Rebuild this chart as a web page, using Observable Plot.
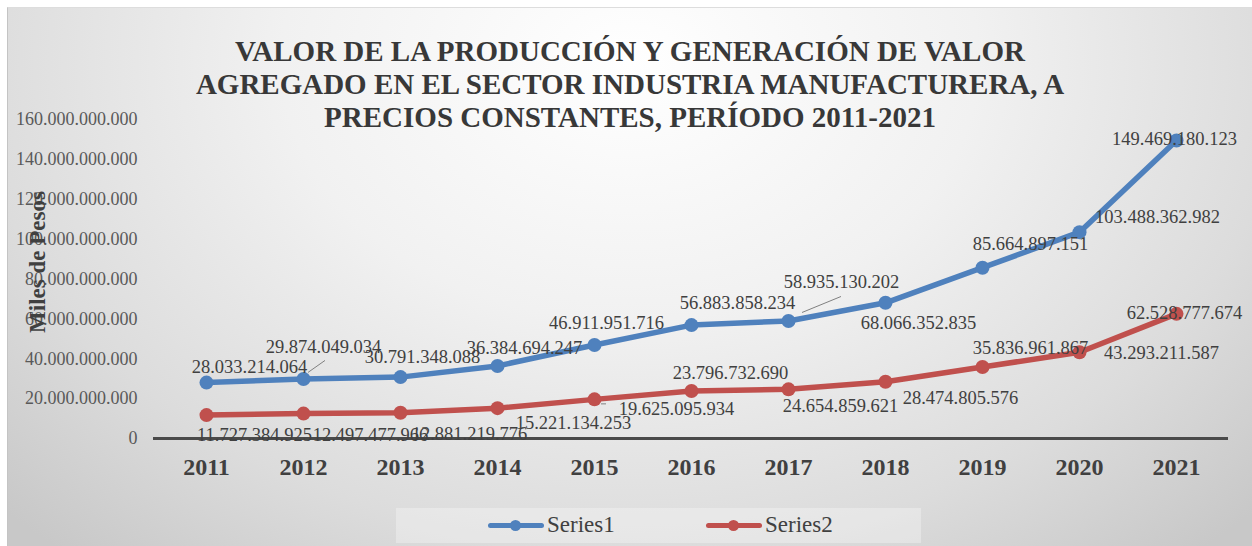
<!DOCTYPE html>
<html>
<head>
<meta charset="utf-8">
<script src="https://cdn.jsdelivr.net/npm/d3@7"></script>
<script src="https://cdn.jsdelivr.net/npm/@observablehq/plot@0.6"></script>
<style>
  body { margin: 0; background: #ffffff; }
  #wrap { position: relative; width: 1252px; height: 546px; overflow: hidden; }
  .serif { font-family: 'Liberation Serif', 'DejaVu Serif', serif; }
  #bg { position: absolute; left: 7px; top: 7px; right: 0; bottom: 0;
    background: radial-gradient(ellipse 70% 120% at 50% 10%, #ffffff 0%, #f1f1f1 40%, #dcdcdc 75%, #c8c8c8 100%);
    border-left: 1px solid #c4c4c4; border-top: 1px solid #dddddd; }
  #title { position: absolute; left: 0; width: 1260px; top: 35px; text-align: center;
    font-weight: bold; font-size: 29px; line-height: 33px; color: #383838; }
  #ytitle { position: absolute; left: 38px; top: 262px; transform: translate(-50%, -50%) rotate(-90deg);
    font-weight: bold; font-size: 23px; color: #404040; white-space: nowrap; }
  #chart { position: absolute; left: 0; top: 0; }
  #legend { position: absolute; left: 396px; top: 508px; width: 525px; height: 35px;
    background: rgba(255,255,255,0.3); }
  .item { position: absolute; top: 0; height: 35px; }
  .ln { position: absolute; top: 15px; width: 56px; height: 5px; border-radius: 3px; }
  .dt { position: absolute; top: 12px; width: 11px; height: 11px; border-radius: 50%; }
  .lt { position: absolute; top: 3px; font-size: 23px; line-height: 28px; color: #404040; white-space: nowrap; }
</style>
</head>
<body>
<div id="wrap">
  <div id="bg"></div>
  <div id="chart"></div>
  <div id="title" class="serif"></div>
  <div id="ytitle" class="serif"></div>
  <div id="legend" class="serif"></div>
</div>
<script>
const titleLines = [
  "VALOR DE LA PRODUCCIÓN Y GENERACIÓN DE VALOR",
  "AGREGADO EN EL SECTOR INDUSTRIA MANUFACTURERA, A",
  "PRECIOS CONSTANTES, PERÍODO 2011-2021"
];
const yTitle = "Miles de Pesos";
const years = ["2011","2012","2013","2014","2015","2016","2017","2018","2019","2020","2021"];
const seriesNames = ["Series1", "Series2"];
const series1 = [28033214064, 29874049034, 30791348088, 36384694247, 46911951716, 56883858234, 58935130202, 68066352835, 85664897151, 103488362982, 149469180123];
const series2 = [11727384925, 12497477966, 12881219776, 15221134253, 19625095934, 23796732690, 24654859621, 28474805576, 35836961867, 43293211587, 62528777674];
const yTicks = [0, 20e9, 40e9, 60e9, 80e9, 100e9, 120e9, 140e9, 160e9];
const colors = ["#4F81BD", "#C0504D"];

// data-label offsets (pixels) as placed in the original
const labelDx1 = [43, 20, 22, 27, 12, 46, 53, 33, 48, 78, -2];
const labelDy1 = [-16, -32, -20, -18, -22, -22, -39, 20, -24, -15, -1];
const labelDx2 = [48, 67, 69, 76, 82, 39, 52, 75, 48, 82, 8];
const labelDy2 = [20, 21, 21, 15, 10, -18, 17, 16, -19, 1, -1];
// leader lines: [series index, point index, from dx, from dy, to dx, to dy]
const leaderSpecs = [
  [0, 1, 5, -6, 22, -18],
  [0, 6, 14, -8, 53, -24],
  [1, 4, 7, 5, 12, 5]
];

const fmt = v => String(Math.round(v)).replace(/\B(?=(\d{3})+(?!\d))/g, ".");

const rows = [];
years.forEach((yr, i) => {
  rows.push({year: yr, value: series1[i], series: seriesNames[0], dx: labelDx1[i], dy: labelDy1[i]});
});
years.forEach((yr, i) => {
  rows.push({year: yr, value: series2[i], series: seriesNames[1], dx: labelDx2[i], dy: labelDy2[i]});
});

const leaderRows = leaderSpecs.map(([s, i, fx, fy, tx, ty]) => ({
  year: years[i], value: (s === 0 ? series1 : series2)[i], fx, fy, tx, ty
}));

const labelMarks = rows.map(r => Plot.text([r], {
  x: "year", y: "value", text: d => fmt(d.value), dx: r.dx, dy: r.dy,
  fontSize: 18.5, fill: "#404040"
}));

const leaderMark = Plot.dot(leaderRows, {
  x: "year", y: "value", r: 0,
  render: (index, scales, values, dims, context) => {
    const g = d3.create("svg:g");
    for (const i of index) {
      const d = leaderRows[i];
      const px = scales.x(d.year), py = scales.y(d.value);
      g.append("line")
        .attr("x1", px + d.fx).attr("y1", py + d.fy)
        .attr("x2", px + d.tx).attr("y2", py + d.ty)
        .attr("stroke", "#808080").attr("stroke-width", 1);
    }
    return g.node();
  }
});

const chart = Plot.plot({
  width: 1252, height: 546,
  marginLeft: 153, marginRight: 24, marginTop: 119, marginBottom: 108,
  style: {background: "transparent", fontFamily: "'Liberation Serif', 'DejaVu Serif', serif", overflow: "visible"},
  x: {type: "point", domain: years, padding: 0.5, label: null},
  y: {domain: [0, 160e9], label: null},
  color: {domain: seriesNames, range: colors},
  marks: [
    Plot.axisY({ticks: yTicks, tickFormat: fmt, tickSize: 0, tickPadding: 16, fontSize: 18, color: "#595959", label: null}),
    Plot.axisX({tickSize: 0, tickPadding: 19, fontSize: 24, fontWeight: "bold", color: "#404040", label: null}),
    Plot.ruleY([0], {stroke: "#4a4a4a", strokeWidth: 3}),
    Plot.line(rows, {x: "year", y: "value", z: "series", stroke: "series", strokeWidth: 5.5, strokeLinejoin: "round", strokeLinecap: "round"}),
    Plot.dot(rows, {x: "year", y: "value", fill: "series", r: 7}),
    leaderMark,
    ...labelMarks
  ]
});
document.getElementById("chart").appendChild(chart);

document.getElementById("title").innerHTML = titleLines.map(t => `<div>${t}</div>`).join("");
document.getElementById("ytitle").textContent = yTitle;

const legend = document.getElementById("legend");
const legendX = [92, 310];
seriesNames.forEach((name, i) => {
  const item = document.createElement("div");
  item.className = "item";
  item.style.left = legendX[i] + "px";
  item.innerHTML = `<div class="ln" style="left:0;background:${colors[i]}"></div>` +
    `<div class="dt" style="left:22px;background:${colors[i]}"></div>` +
    `<div class="lt" style="left:59px">${name}</div>`;
  legend.appendChild(item);
});
</script>
</body>
</html>
